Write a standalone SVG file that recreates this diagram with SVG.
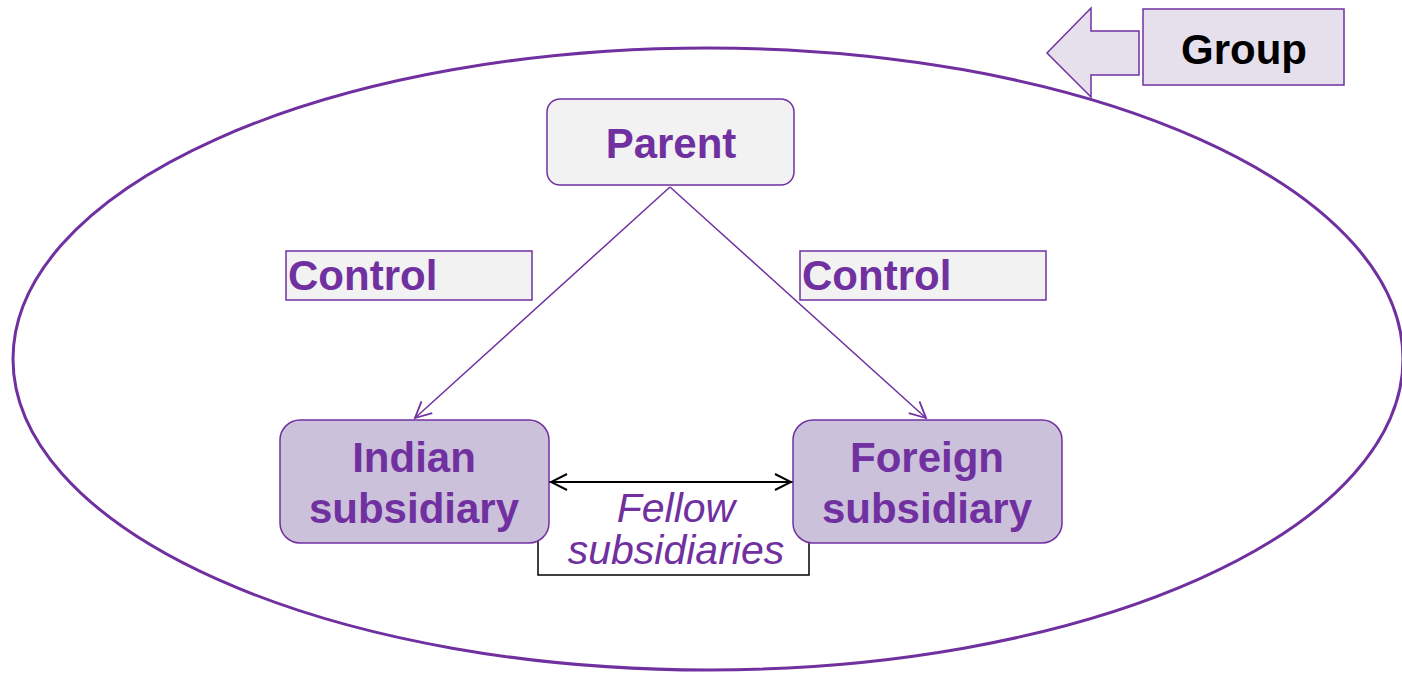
<svg xmlns="http://www.w3.org/2000/svg" width="1402" height="673" viewBox="0 0 1402 673">
<defs>
<style>
.b{font-family:"Liberation Sans",Arial,sans-serif;font-weight:bold;font-size:42px;text-anchor:middle;fill:#7030A0}
.i{font-family:"Liberation Sans",Arial,sans-serif;font-style:italic;font-size:41px;text-anchor:middle;fill:#7030A0}
.light{fill:#F2F2F2;stroke:#7030A0;stroke-width:1.5}
.sub{fill:#CCC1DA;stroke:#7030A0;stroke-width:1.5}
</style>
<marker id="pa" viewBox="0 0 20 20" refX="18" refY="10" markerWidth="20" markerHeight="20" markerUnits="userSpaceOnUse" orient="auto">
<path d="M2,2 L18,10 L2,18" fill="none" stroke="#7030A0" stroke-width="1.8"/>
</marker>
<marker id="ba" viewBox="0 0 20 20" refX="18" refY="10" markerWidth="20" markerHeight="20" markerUnits="userSpaceOnUse" orient="auto-start-reverse">
<path d="M2,2 L18,10 L2,18" fill="none" stroke="#000" stroke-width="2"/>
</marker>
</defs>
<rect width="1402" height="673" fill="#fff"/>
<g id="group-label">
<polygon points="1047,53 1091,8 1091,31 1139,31 1139,75 1091,75 1091,97" fill="#E6E0EC" stroke="#7030A0" stroke-width="1.5"/>
<rect x="1143" y="9" width="201" height="76" fill="#E6E0EC" stroke="#7030A0" stroke-width="1.5"/>
<text x="1244" y="64" class="b" style="fill:#000">Group</text>
</g>
<g id="group-ellipse">
<ellipse cx="708" cy="359" rx="695" ry="311" fill="none" stroke="#7030A0" stroke-width="3"/>
</g>
<g id="fellow-label">
<rect x="538" y="482" width="271" height="93" fill="#fff" stroke="#000" stroke-width="1.5"/>
<text x="676" y="522" class="i">Fellow</text>
<text x="676" y="564" class="i">subsidiaries</text>
</g>
<g id="parent">
<rect x="547" y="99" width="247" height="86" rx="13" class="light"/>
<text x="671" y="158" class="b">Parent</text>
</g>
<g id="control-left">
<rect x="286" y="251" width="246" height="49" class="light"/>
<text x="288" y="290" class="b" style="text-anchor:start">Control</text>
</g>
<g id="control-right">
<rect x="800" y="251" width="246" height="49" class="light"/>
<text x="802" y="290" class="b" style="text-anchor:start">Control</text>
</g>
<g id="indian">
<rect x="280" y="420" width="269" height="123" rx="20" class="sub"/>
<text x="414" y="472" class="b">Indian</text>
<text x="414" y="523" class="b">subsidiary</text>
</g>
<g id="foreign">
<rect x="793" y="420" width="269" height="123" rx="20" class="sub"/>
<text x="927" y="472" class="b">Foreign</text>
<text x="927" y="523" class="b">subsidiary</text>
</g>
<g id="connectors">
<line x1="670" y1="187" x2="415" y2="418" stroke="#7030A0" stroke-width="1.5" marker-end="url(#pa)"/>
<line x1="670" y1="187" x2="926" y2="418" stroke="#7030A0" stroke-width="1.5" marker-end="url(#pa)"/>
<line x1="551" y1="482" x2="791" y2="482" stroke="#000" stroke-width="2" marker-start="url(#ba)" marker-end="url(#ba)"/>
</g>
</svg>
